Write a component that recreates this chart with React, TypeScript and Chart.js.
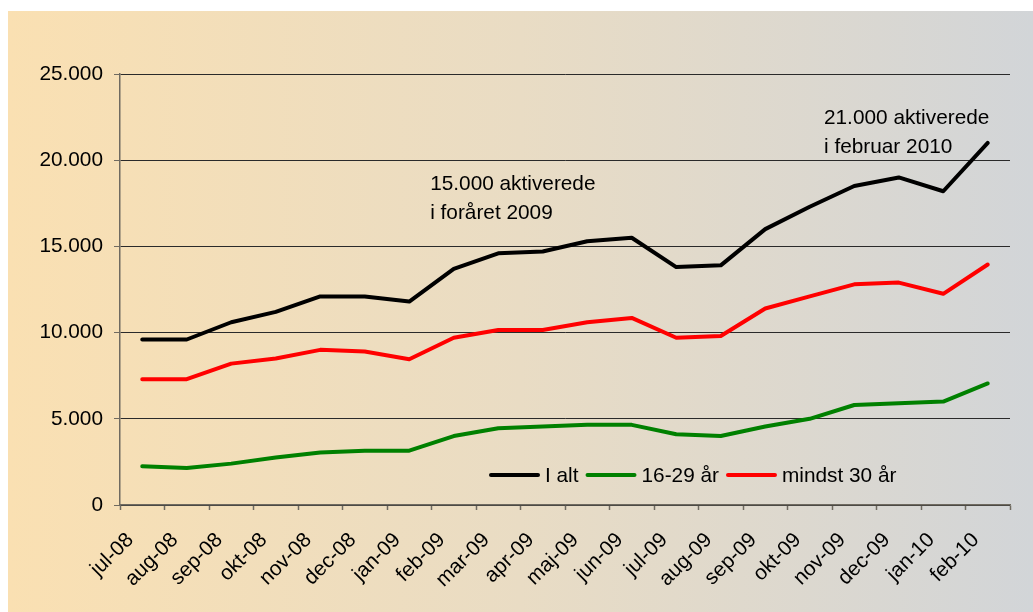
import React, { useEffect, useRef } from 'react';
import { Chart, registerables } from 'chart.js';

Chart.register(...registerables);

const categories = [
  'jul-08', 'aug-08', 'sep-08', 'okt-08', 'nov-08', 'dec-08', 'jan-09', 'feb-09',
  'mar-09', 'apr-09', 'maj-09', 'jun-09', 'jul-09', 'aug-09', 'sep-09', 'okt-09',
  'nov-09', 'dec-09', 'jan-10', 'feb-10',
];

const iAlt = [
  9600, 9600, 10600, 11200, 12100, 12100, 11800, 13700, 14600, 14700,
  15300, 15500, 13800, 13900, 16000, 17300, 18500, 19000, 18200, 21000,
];

const aar16til29 = [
  2250, 2150, 2400, 2750, 3050, 3150, 3150, 4000, 4450, 4550,
  4650, 4650, 4100, 4000, 4550, 5000, 5800, 5900, 6000, 7050,
];

const mindst30 = [
  7300, 7300, 8200, 8500, 9000, 8900, 8450, 9700, 10150, 10150,
  10600, 10850, 9700, 9800, 11400, 12100, 12800, 12900, 12250, 13950,
];

const seriesLabels = ['I alt', '16-29 år', 'mindst 30 år'];
const seriesColors = ['#000000', '#008000', '#ff0000'];

const yMin = 0;
const yMax = 25000;
const yStep = 5000;

const annotationLines1 = ['15.000 aktiverede', 'i foråret 2009'];
const annotationLines2 = ['21.000 aktiverede', 'i februar 2010'];
// anchor: fractional category index and value of first baseline
const annotationAnchors = [
  { x: 6.47, y: 18300 },
  { x: 15.32, y: 22100 },
];

const FONT = '"Liberation Sans", Arial, Helvetica, sans-serif';
const FS = 20.8;

const formatNum = (v: number) =>
  String(v).replace(/\B(?=(\d{3})+(?!\d))/g, '.');

const overlayPlugin = {
  id: 'overlay',
  afterDatasetsDraw(chart: any) {
    const ctx = chart.ctx;
    const xs = chart.scales.x;
    const ys = chart.scales.y;
    ctx.save();
    // annotations
    ctx.font = `${FS}px ${FONT}`;
    ctx.fillStyle = '#000';
    ctx.textAlign = 'left';
    ctx.textBaseline = 'alphabetic';
    const allLines = [annotationLines1, annotationLines2];
    annotationAnchors.forEach((a, i) => {
      const px = xs.getPixelForValue(a.x);
      const py = ys.getPixelForValue(a.y);
      allLines[i].forEach((t, j) => {
        ctx.fillText(t, px, py + j * 29);
      });
    });
    // legend
    const area = chart.chartArea;
    let lx = area.left + 370;
    const ly = area.bottom - 30;
    ctx.textBaseline = 'middle';
    chart.data.datasets.forEach((ds: any) => {
      ctx.strokeStyle = ds.borderColor;
      ctx.lineWidth = 4;
      ctx.lineCap = 'round';
      ctx.beginPath();
      ctx.moveTo(lx + 1, ly);
      ctx.lineTo(lx + 48, ly);
      ctx.stroke();
      lx += 55;
      ctx.fillStyle = '#000';
      ctx.fillText(ds.label, lx, ly + 1);
      lx += ctx.measureText(ds.label).width + 8;
    });
    ctx.restore();
  },
};

export default function App() {
  const ref = useRef<HTMLCanvasElement>(null);

  useEffect(() => {
    if (!ref.current) return;
    const chart = new Chart(ref.current, {
      type: 'line',
      data: {
        labels: categories,
        datasets: [iAlt, aar16til29, mindst30].map((d, i) => ({
          label: seriesLabels[i],
          data: d,
          borderColor: seriesColors[i],
          backgroundColor: seriesColors[i],
          borderWidth: 4,
          pointRadius: 0,
          tension: 0,
          borderJoinStyle: 'round' as const,
          borderCapStyle: 'round' as const,
        })),
      },
      options: {
        animation: false,
        responsive: false,
        maintainAspectRatio: false,
        layout: { padding: { top: 63, right: 23, left: 0, bottom: 0 } },
        plugins: {
          legend: { display: false },
          tooltip: { enabled: false },
        },
        scales: {
          x: {
            type: 'category',
            offset: true,
            grid: {
              offset: true,
              drawOnChartArea: false,
              drawTicks: true,
              tickLength: 5,
              tickColor: '#6f6a60',
              tickWidth: 1.5,
            },
            border: { display: true, color: '#6f6a60', width: 1.5 },
            ticks: {
              autoSkip: false,
              maxRotation: 45,
              minRotation: 45,
              padding: 18,
              labelOffset: -12,
              color: '#000',
              font: { family: FONT, size: FS },
            },
            afterFit(scale: any) {
              scale.height = 107;
              scale.paddingLeft = 0;
              scale.paddingRight = 0;
            },
          },
          y: {
            min: yMin,
            max: yMax,
            grid: {
              color: '#2a2a2a',
              lineWidth: 1,
              drawTicks: true,
              tickLength: 6,
              tickColor: '#6f6a60',
            },
            border: { display: true, color: '#6f6a60', width: 1.5 },
            ticks: {
              stepSize: yStep,
              padding: 11,
              color: '#000',
              font: { family: FONT, size: FS },
              callback: (v: any) => formatNum(Number(v)),
            },
            afterFit(scale: any) {
              scale.width = 112;
              scale.paddingTop = 0;
              scale.paddingBottom = 0;
            },
          },
        },
      },
      plugins: [overlayPlugin],
    });
    return () => chart.destroy();
  }, []);

  return (
    <div
      style={{
        position: 'absolute',
        left: 8,
        top: 11,
        width: 1025,
        height: 601,
        background: 'linear-gradient(to right, #fae0b2 0%, #e9dcc4 50%, #d2d5d8 100%)',
      }}
    >
      <canvas ref={ref} width={1025} height={601} style={{ display: 'block' }} />
    </div>
  );
}
